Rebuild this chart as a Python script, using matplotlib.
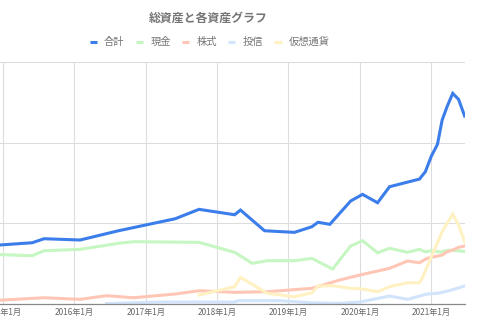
#!/usr/bin/env python3

# Imports needed for the asset chart.

import matplotlib
matplotlib.use('Agg')
import matplotlib.pyplot as plt
import matplotlib.dates as mdates
from matplotlib.lines import Line2D
import pandas as pd

plt.rcParams['font.family'] = ['Noto Sans CJK JP', 'DejaVu Sans']

# Asset values (万円) at each recorded date, one pair of lists per series.

total_dates = ['2014-10-01', '2015-06-01', '2015-08-01', '2016-02-01', '2016-08-15', '2017-06-01',
               '2017-10-01', '2018-04-01', '2018-05-01', '2018-09-01', '2019-02-01', '2019-05-01',
               '2019-06-01', '2019-08-01', '2019-11-15', '2020-01-15', '2020-04-01', '2020-06-01',
               '2020-11-01', '2020-12-01', '2021-01-01', '2021-02-01', '2021-02-25', '2021-03-22',
               '2021-04-20', '2021-05-20', '2021-06-20']
total = [714, 755, 805, 789, 904, 1053,
         1170, 1103, 1161, 904, 884, 954,
         1009, 984, 1273, 1356, 1252, 1451,
         1546, 1637, 1832, 1977, 2279, 2444,
         2611, 2536, 2329]

cash_dates = ['2014-10-01', '2015-06-01', '2015-08-01', '2016-02-01', '2016-08-15', '2016-11-01',
              '2017-10-01', '2018-04-01', '2018-07-01', '2018-09-15', '2019-02-01', '2019-05-01',
              '2019-08-15', '2019-11-15', '2020-01-15', '2020-04-01', '2020-06-01', '2020-09-01',
              '2020-11-01', '2020-12-01', '2021-01-01', '2021-02-15', '2021-04-01', '2021-06-20']
cash = [615, 594, 656, 673, 748, 768,
        760, 636, 499, 532, 532, 561,
        428, 714, 780, 631, 686, 636,
        673, 643, 656, 640, 664, 648]

stock_dates = ['2014-10-01', '2015-08-01', '2016-02-01', '2016-06-15', '2016-11-01', '2017-06-01',
               '2017-10-01', '2018-04-01', '2018-09-15', '2019-05-01', '2019-06-10', '2019-09-20',
               '2020-01-01', '2020-06-01', '2020-09-01', '2020-11-01', '2020-12-10', '2021-02-25',
               '2021-03-22', '2021-04-20', '2021-05-20', '2021-06-20']
stock = [31, 72, 52, 97, 72, 118,
         159, 139, 147, 189, 217, 292,
         354, 437, 528, 507, 561, 602,
         643, 664, 698, 714]

fund_dates = ['2016-06-15', '2017-04-01', '2018-04-01', '2018-04-20', '2018-11-15', '2019-05-01',
              '2019-09-20', '2020-01-01', '2020-06-01', '2020-09-01', '2020-12-10', '2021-02-01',
              '2021-04-01', '2021-06-20']
fund = [0, 19, 19, 35, 35, 10,
        2, 19, 93, 52, 118, 127,
        159, 217]

crypto_dates = ['2017-10-01', '2018-04-01', '2018-05-01', '2018-09-15', '2019-02-01', '2019-05-01',
                '2019-06-01', '2019-08-15', '2019-11-15', '2020-01-15', '2020-04-01', '2020-06-01',
                '2020-09-01', '2020-11-01', '2020-11-15', '2021-01-01', '2021-02-25', '2021-04-20',
                '2021-05-20', '2021-06-20']
crypto = [106, 209, 325, 127, 84, 134,
          217, 221, 189, 180, 147, 209,
          258, 258, 313, 581, 892, 1112,
          975, 768]

# Series: (dates, values, colour, legend label).

series = [(total_dates, total, '#3b7dea', '合計'),
          (cash_dates, cash, '#c6f6c2', '現金'),
          (stock_dates, stock, '#ffc6b6', '株式'),
          (fund_dates, fund, '#d2e4fb', '投信'),
          (crypto_dates, crypto, '#fff1c2', '仮想通貨')]

fig = plt.figure(figsize=(4.8, 3.31), dpi=100)
ax = fig.add_axes([-0.032, 0.083, 1.0, 0.7296])

handles = []
for dates, values, color, label in series:
    ax.plot(pd.to_datetime(dates), values, color=color, lw=2.2, solid_joinstyle='miter')
    handles.append(Line2D([], [], color=color, lw=2.2, solid_capstyle='butt', label=label))

# Axis limits, grid and tick labels.

ax.set_xlim(pd.Timestamp('2014-10-01'), pd.Timestamp('2021-06-20'))
ax.set_ylim(0, 3000)
ax.set_yticks([1000, 2000, 3000])
ax.xaxis.set_major_locator(mdates.YearLocator())
ax.xaxis.set_major_formatter(plt.FuncFormatter(lambda x, pos: f'{mdates.num2date(x).year}年1月'))
ax.tick_params(axis='x', length=0, pad=3, labelsize=5.9, labelcolor='#666666')
ax.tick_params(axis='y', length=0, labelleft=False)
ax.grid(True, color='#dddddd', lw=0.8)
ax.set_axisbelow(True)
for side in ['left', 'right', 'top']:
    ax.spines[side].set_visible(False)
ax.spines['bottom'].set_color('#888888')
ax.spines['bottom'].set_linewidth(0.9)

# Title and legend above the plot.

fig.text(0.434, 0.946, '総資産と各資産グラフ', ha='center', va='center',
         fontsize=8.6, fontweight='bold', color='#757575')
fig.legend(handles=handles, loc='center', bbox_to_anchor=(0.437, 0.873), ncol=5, frameon=False,
           fontsize=7.4, labelcolor='#757575', handlelength=0.7, handletextpad=0.7,
           columnspacing=1.1, borderpad=0)

fig.savefig('out.png', dpi=100)
